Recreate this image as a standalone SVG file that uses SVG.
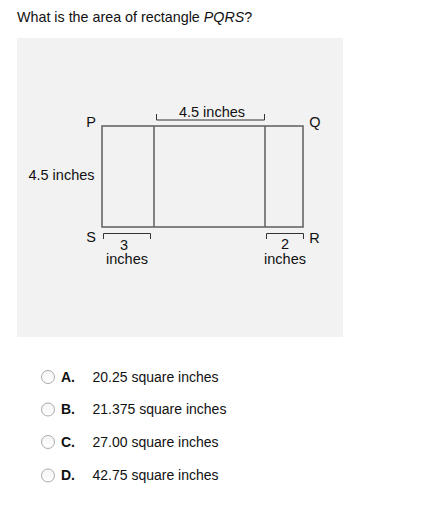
<svg xmlns="http://www.w3.org/2000/svg" width="426" height="508" viewBox="0 0 426 508">
<defs>
<style>
text{font-family:"Liberation Sans",Arial,sans-serif;fill:#111;}
.t{font-size:14.3px;}
.lb{font-size:14.5px;}
.opt{font-size:14px;}
.b{font-weight:bold;}
.fig{fill:none;stroke:#666;stroke-width:1.6;}
.br{fill:none;stroke:#333;stroke-width:1;}
.radio{fill:url(#rg);stroke:#aaa;stroke-width:1;}
</style>
<linearGradient id="rg" x1="0" y1="0" x2="0" y2="1">
<stop offset="0" stop-color="#f4f4f4"/>
<stop offset="1" stop-color="#ffffff"/>
</linearGradient>
</defs>
<rect width="426" height="508" fill="#ffffff"/>
<text class="t" x="17" y="22">What is the area of rectangle <tspan font-style="italic">PQRS</tspan>?</text>
<rect x="17" y="38" width="326" height="299" fill="#f2f2f2"/>
<g id="rectangle">
<rect class="fig" x="102" y="126" width="201" height="101"/>
<line class="fig" x1="154" y1="126" x2="154" y2="227"/>
<line class="fig" x1="265" y1="126" x2="265" y2="227"/>
</g>
<g id="connectors">
<path class="br" d="M156.5 114 V120 H264.5 V114"/>
<path class="br" d="M103.5 239 V233.5 H150.5 V239"/>
<path class="br" d="M266.5 239 V233.5 H303.5 V239"/>
</g>
<g id="labels">
<text class="lb" x="91" y="127" text-anchor="middle">P</text>
<text class="lb" x="315" y="127" text-anchor="middle">Q</text>
<text class="lb" x="314.5" y="242.5" text-anchor="middle">R</text>
<text class="lb" x="91" y="242" text-anchor="middle">S</text>
<text class="lb" x="212" y="117" text-anchor="middle">4.5 inches</text>
<text class="lb" x="61.5" y="180" text-anchor="middle">4.5 inches</text>
<text class="lb" x="124" y="249.5" text-anchor="middle">3</text>
<text class="lb" x="127" y="264" text-anchor="middle">inches</text>
<text class="lb" x="285" y="249" text-anchor="middle">2</text>
<text class="lb" x="285" y="264" text-anchor="middle">inches</text>
</g>
<g id="optA">
<circle class="radio" cx="48" cy="377" r="6.5"/>
<text class="opt b" x="61" y="381.5">A.</text>
<text class="opt" x="92.5" y="381.5">20.25 square inches</text>
</g>
<g id="optB">
<circle class="radio" cx="48" cy="409.5" r="6.5"/>
<text class="opt b" x="61" y="414">B.</text>
<text class="opt" x="92.5" y="414">21.375 square inches</text>
</g>
<g id="optC">
<circle class="radio" cx="48" cy="442" r="6.5"/>
<text class="opt b" x="61" y="446.5">C.</text>
<text class="opt" x="92.5" y="446.5">27.00 square inches</text>
</g>
<g id="optD">
<circle class="radio" cx="48" cy="475.5" r="6.5"/>
<text class="opt b" x="61" y="480">D.</text>
<text class="opt" x="92.5" y="480">42.75 square inches</text>
</g>
</svg>
